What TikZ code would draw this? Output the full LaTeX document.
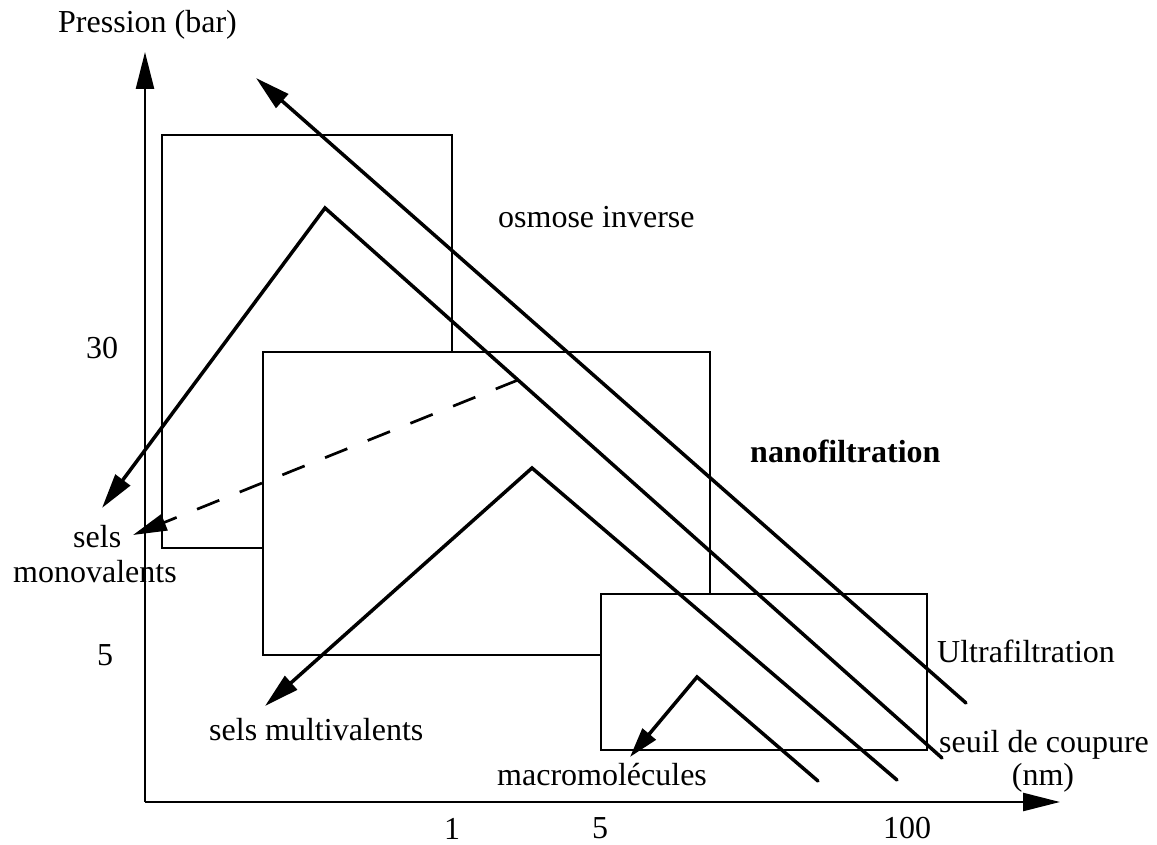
\documentclass[tikz,border=0pt]{standalone}
\usepackage{fontspec}
\setmainfont{Liberation Serif}
\usetikzlibrary{arrows.meta}
\begin{document}
\begin{tikzpicture}[x=1pt,y=-1pt,
  lbl/.style={font=\fontsize{32}{36}\selectfont, inner sep=0pt},
  boxline/.style={line width=2.4pt, line join=miter},
  axisline/.style={line width=2.5pt, -{Triangle[length=37pt,width=18pt]}},
  flowline/.style={line width=3.5pt, line cap=round, line join=miter},
  flowarrow/.style={flowline, -{Triangle[length=35pt,width=18pt]}},
  dashline/.style={line width=2.7pt, dash pattern=on 24pt off 22pt, -{Triangle[length=34pt,width=17pt]}}
]
\useasboundingbox (0,0) rectangle (1157,845);
% axes
\coordinate (O) at (145,802);
\coordinate (ytip) at (145,52);
\coordinate (xtip) at (1060,802);
\draw[axisline] (O) -- (ytip);
\draw[axisline] (O) -- (xtip);
% boxes
\coordinate (b1a) at (263,548);
\coordinate (b1b) at (162,548);
\coordinate (b1c) at (162,135);
\coordinate (b1d) at (452,135);
\coordinate (b1e) at (452,352);
\draw[boxline] (b1a) -- (b1b) -- (b1c) -- (b1d) -- (b1e);
\coordinate (b2a) at (601,655);
\coordinate (b2b) at (263,655);
\coordinate (b2c) at (263,352);
\coordinate (b2d) at (710,352);
\coordinate (b2e) at (710,594);
\draw[boxline] (b2a) -- (b2b) -- (b2c) -- (b2d) -- (b2e);
\coordinate (b3a) at (601,594);
\coordinate (b3b) at (927,750);
\draw[boxline] (b3a) rectangle (b3b);
% long osmose arrow
\coordinate (oend) at (966,703);
\coordinate (otip) at (256,78);
\draw[flowarrow] (oend) -- (otip);
% osmose chevron
\coordinate (c1end) at (942,758);
\coordinate (c1peak) at (325,208);
\coordinate (c1tip) at (102,508);
\draw[flowarrow] (c1end) -- (c1peak) -- (c1tip);
% nano chevron
\coordinate (c2end) at (897,780);
\coordinate (c2peak) at (532,468);
\coordinate (c2tip) at (265,706);
\draw[flowarrow] (c2end) -- (c2peak) -- (c2tip);
% macro chevron
\coordinate (c3end) at (818,781);
\coordinate (c3peak) at (697,677);
\coordinate (c3tip) at (630,757);
\draw[flowline, -{Triangle[length=30pt,width=17pt]}] (c3end) -- (c3peak) -- (c3tip);
% dashed
\coordinate (dstart) at (518,380);
\coordinate (dtip) at (133,535);
\draw[dashline] (dstart) -- (dtip);
% labels
\node[lbl, anchor=base west] (pression) at (58,33) {Pression (bar)};
\node[lbl, anchor=base west] (osmose) at (498,228) {osmose inverse};
\node[lbl, anchor=base west, font=\fontsize{32}{36}\selectfont\bfseries] (nano) at (750,462) {nanofiltration};
\node[lbl, anchor=base west] (ultra) at (937,662) {Ultrafiltration};
\node[lbl, anchor=base] (seuil) at (1044,752) {seuil de coupure};
\node[lbl, anchor=base] (nm) at (1043,785) {(nm)};
\node[lbl, anchor=base west] (macro) at (497,785) {macromolécules};
\node[lbl, anchor=base west] (multi) at (209,740) {sels multivalents};
\node[lbl, anchor=base west] (sels) at (73,547) {sels};
\node[lbl, anchor=base west] (mono) at (13,582) {monovalents};
\node[lbl, anchor=base] (y30) at (102,358) {30};
\node[lbl, anchor=base] (y5) at (105,665) {5};
\node[lbl, anchor=base] (x1) at (452,839) {1};
\node[lbl, anchor=base] (x5) at (600,838) {5};
\node[lbl, anchor=base] (x100) at (907,838) {100};
\end{tikzpicture}
\end{document}
